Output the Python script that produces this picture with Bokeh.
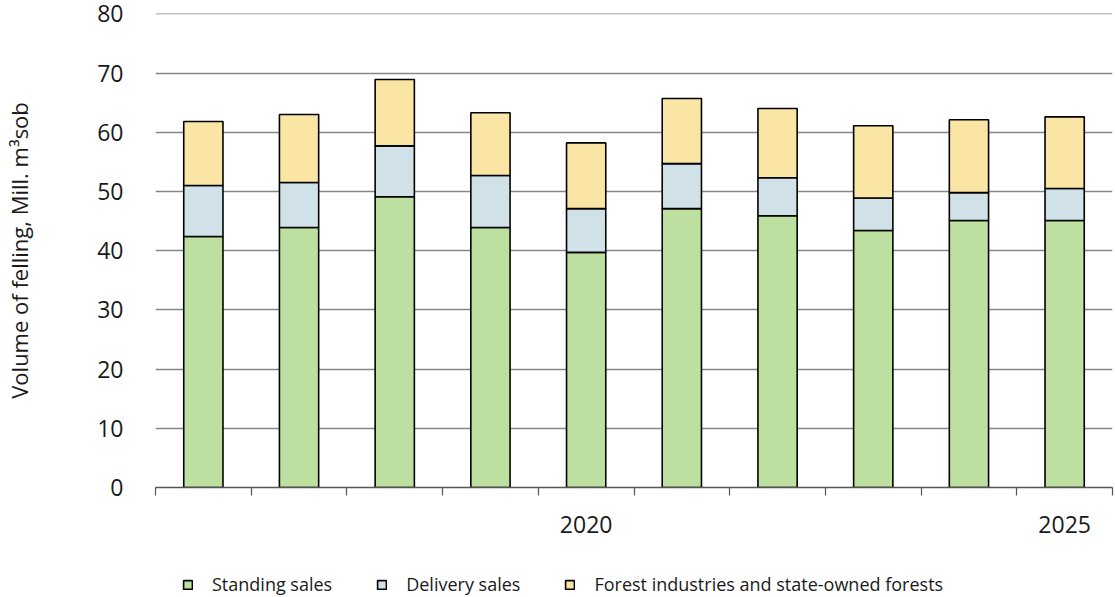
import numpy as np
from bokeh.plotting import figure
from bokeh.models import FixedTicker, Legend, LegendItem, ColumnDataSource, Range1d
from bokeh.layouts import column
from bokeh.embed import file_html
from bokeh.resources import INLINE

years = [2016, 2017, 2018, 2019, 2020, 2021, 2022, 2023, 2024, 2025]
standing = [42.4, 43.9, 49.1, 43.9, 39.7, 47.1, 45.9, 43.4, 45.1, 45.1]
delivery = [8.6, 7.6, 8.6, 8.8, 7.4, 7.6, 6.4, 5.5, 4.7, 5.4]
forest_ind = [10.8, 11.5, 11.2, 10.6, 11.1, 11.0, 11.7, 12.2, 12.3, 12.1]
series_names = ["Standing sales", "Delivery sales", "Forest industries and state-owned forests"]
colors = ["#bddf9f", "#d0e2e8", "#fae5a4"]
x_labels = {2020: "2020", 2025: "2025"}

src = ColumnDataSource(dict(year=years, s=standing, d=delivery, f=forest_ind))

p = figure(width=1115, height=547, output_backend="svg", toolbar_location=None,
           x_range=Range1d(2015.5, 2025.5), y_range=Range1d(0, 80.05),
           min_border_left=155, min_border_right=3, min_border_top=13, min_border_bottom=60)
p.outline_line_color = None

p.vbar_stack(["s", "d", "f"], x="year", width=0.41, source=src,
             fill_color=colors, line_color="black", line_width=1.6)

p.xgrid.grid_line_color = None
p.ygrid.grid_line_color = "#868686"
p.ygrid.grid_line_width = 1.3
p.ygrid.ticker = FixedTicker(ticks=[10, 20, 30, 40, 50, 60, 70, 80])

p.yaxis.ticker = FixedTicker(ticks=[0, 10, 20, 30, 40, 50, 60, 70, 80])
p.yaxis.axis_line_color = None
p.yaxis.major_tick_line_color = None
p.yaxis.major_label_text_font = "Open Sans"
p.yaxis.major_label_text_font_size = "23px"
p.yaxis.major_label_text_color = "#1a1a1a"
p.yaxis.major_label_standoff = 26
p.yaxis.axis_label = "Volume of felling, Mill. m\u00b3sob"
p.yaxis.axis_label_text_font = "Open Sans"
p.yaxis.axis_label_text_font_size = "22px"
p.yaxis.axis_label_text_font_style = "normal"
p.yaxis.axis_label_text_color = "#1a1a1a"
p.yaxis.axis_label_standoff = 60

p.xaxis.ticker = FixedTicker(ticks=[2020, 2025],
                             minor_ticks=[2015.5 + i for i in range(11)])
p.xaxis.major_label_overrides = x_labels
p.xaxis.axis_line_color = "#555555"
p.xaxis.axis_line_width = 1.3
p.xaxis.major_tick_line_color = None
p.xaxis.minor_tick_line_color = "#555555"
p.xaxis.minor_tick_line_width = 1.2
p.xaxis.minor_tick_in = 0
p.xaxis.minor_tick_out = 8
p.xaxis.major_tick_in = 0
p.xaxis.major_tick_out = 8
p.xaxis.major_label_standoff = 20
p.xaxis.major_label_text_font = "Open Sans"
p.xaxis.major_label_text_font_size = "23px"
p.xaxis.major_label_text_color = "#1a1a1a"

# legend strip below the chart (placeholder renderers, used only for legend swatches)
lp = figure(width=1115, height=50, output_backend="svg", toolbar_location=None,
            x_range=Range1d(2015.5, 2025.5), y_range=Range1d(0, 1),
            x_axis_location=None, y_axis_location=None,
            min_border_left=155, min_border_right=3, min_border_top=0, min_border_bottom=0)
lp.outline_line_color = None
lp.xgrid.grid_line_color = None
lp.ygrid.grid_line_color = None
nan_src = ColumnDataSource(dict(year=np.array([np.nan]), s=np.array([np.nan]),
                                d=np.array([np.nan]), f=np.array([np.nan])))
lrs = lp.vbar_stack(["s", "d", "f"], x="year", width=0.41, source=nan_src,
                    fill_color=colors, line_color="black", line_width=1.6)

legend = Legend(items=[LegendItem(label=n, renderers=[r]) for n, r in zip(series_names, lrs)],
                orientation="horizontal", location=(27, 1),
                label_text_font="Open Sans", label_text_font_size="18px",
                label_text_color="#1a1a1a",
                glyph_width=11, glyph_height=11, spacing=44, label_standoff=19,
                padding=0, margin=0, border_line_color=None, background_fill_alpha=0)
lp.add_layout(legend, "center")

layout = column(p, lp, spacing=0)
open("out.html", "w").write(file_html(layout, INLINE))
